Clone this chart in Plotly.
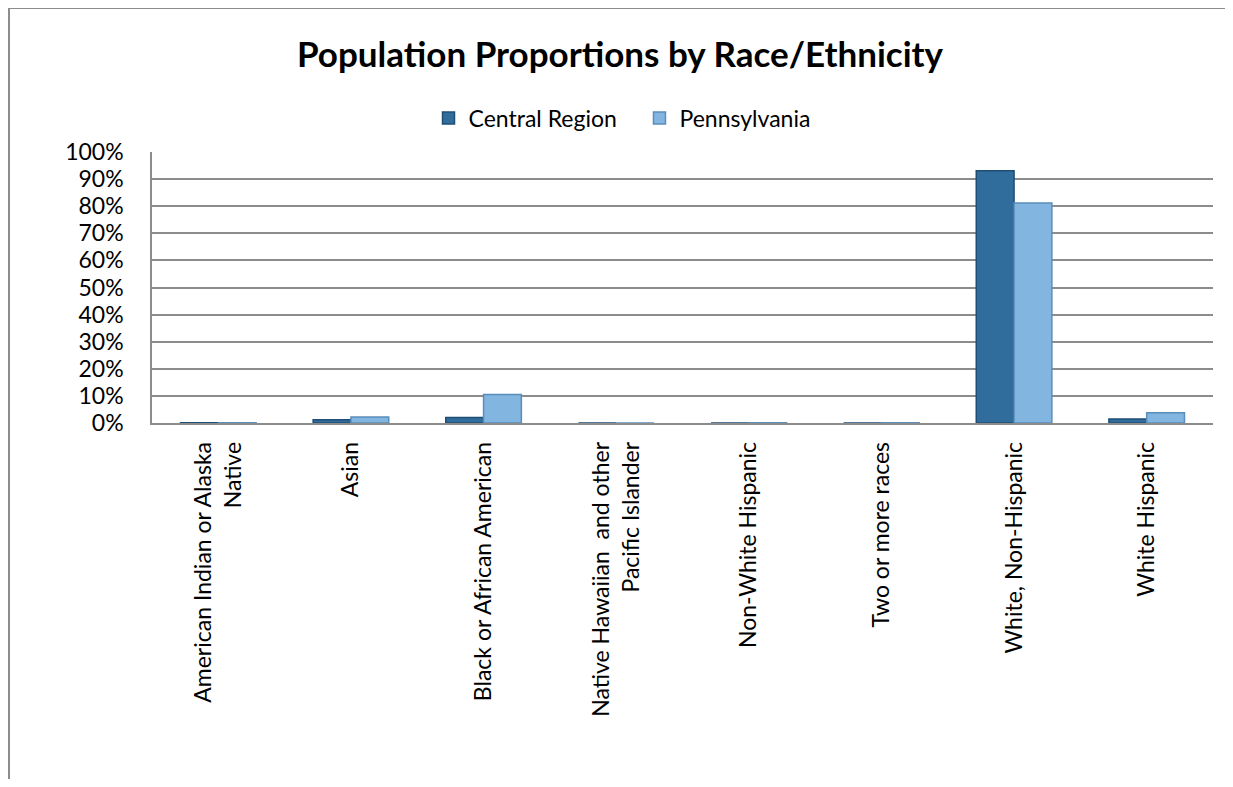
import plotly.graph_objects as go

categories = [
    "American Indian or Alaska<br>Native",
    "Asian",
    "Black or African American",
    "Native Hawaiian  and other<br>Pacific Islander",
    "Non-White Hispanic",
    "Two or more races",
    "White, Non-Hispanic",
    "White Hispanic",
]
central_region = [0.001, 0.012, 0.02, 0.0, 0.0, 0.0, 0.931, 0.015]
pennsylvania = [0.001, 0.022, 0.105, 0.0, 0.001, 0.001, 0.812, 0.038]
y_ticks = [i / 10 for i in range(11)]
y_tick_labels = [f"{i*10}%" for i in range(11)]

OFF = 8  # page body margin
W, H = 1233 - 2 * OFF, 787 - 2 * OFF
L, T = 152 - OFF, 152 - OFF
R = W - (1213 - OFF)
B = H - (423 - OFF)
pw, ph = W - L - R, H - T - B

def px(x):  # page x -> paper x
    return (x - OFF - L) / pw

def py(y):  # page y -> paper y
    return (H - B - (y - OFF)) / ph

font = "Lato, Calibri, Carlito, sans-serif"

fig = go.Figure()
fig.add_trace(go.Bar(
    name="Central Region\u00a0\u00a0\u00a0", x=categories, y=central_region,
    marker=dict(color="#306C9C", line=dict(color="#1F4E75", width=1.5)),
))
fig.add_trace(go.Bar(
    name="Pennsylvania", x=categories, y=pennsylvania,
    marker=dict(color="#82B6E0", line=dict(color="#5A8DBA", width=1.5)),
))

fig.update_layout(
    width=W, height=H,
    margin=dict(l=L, r=R, t=T, b=B),
    paper_bgcolor="white", plot_bgcolor="white",
    barmode="group", bargap=0.43, bargroupgap=0.0,
    font=dict(family=font, size=23, color="black"),
    title=dict(text="<b>Population Proportions by Race/Ethnicity</b>",
               x=(620 - OFF) / W, xref="container", xanchor="center",
               y=1 - (55 - OFF) / H, yanchor="middle",
               font=dict(family=font, size=35, color="black")),
    legend=dict(orientation="h", x=px(622), xanchor="center",
                y=py(118), yanchor="middle",
                font=dict(family=font, size=23), itemwidth=30,
                traceorder="normal"),
    showlegend=True,
)
fig.update_yaxes(
    range=[0, 1], tickvals=y_ticks, ticktext=y_tick_labels,
    showgrid=True, gridcolor="#8C8C8C", gridwidth=1.5,
    showline=True, linecolor="#8C8C8C", linewidth=1.5,
    ticks="", ticklabelstandoff=22, zeroline=False,
    tickfont=dict(family=font, size=23),
)
fig.update_xaxes(
    tickangle=-90, showline=True, linecolor="#8C8C8C", linewidth=1.5,
    ticks="", ticklabelstandoff=8, showgrid=False,
    tickfont=dict(family=font, size=23),
)

# chart outer border
fig.add_shape(type="line", xref="paper", yref="paper",
              x0=px(8), x1=px(1240), y0=py(8), y1=py(8),
              line=dict(color="#8C8C8C", width=2))
fig.add_shape(type="line", xref="paper", yref="paper",
              x0=px(9), x1=px(9), y0=py(8), y1=py(800),
              line=dict(color="#8C8C8C", width=2))

fig.write_html("out.html")
